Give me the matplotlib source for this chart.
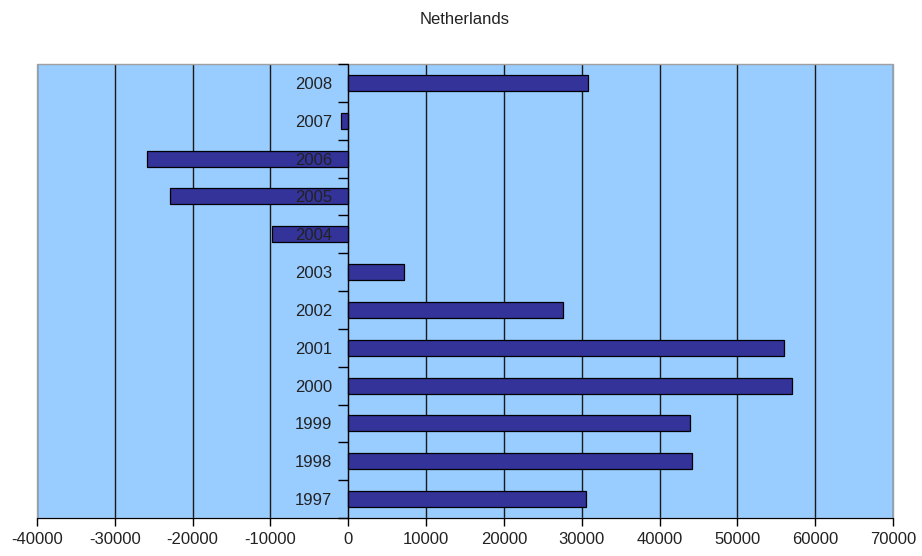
import numpy as np
import matplotlib.pyplot as plt
from matplotlib.patches import Rectangle

plt.rcParams['font.family'] = ['Liberation Sans', 'DejaVu Sans']

years = ['1997', '1998', '1999', '2000', '2001', '2002',
         '2003', '2004', '2005', '2006', '2007', '2008']
values = [30500, 44150, 43850, 57000, 56050, 27650,
          7100, -9850, -22900, -25900, -950, 30800]
xticks = np.arange(-40000, 70001, 10000)

# figure setup
fig = plt.figure(figsize=(9.22, 5.56), dpi=100)
ax = fig.add_axes([37 / 922, 38 / 556, 856 / 922, 454 / 556])
ax.set_facecolor('#99ccff')

pos = np.arange(len(years))
ax.barh(pos, values, height=0.42, color='#333399', edgecolor='black',
        linewidth=0.9, zorder=1)

# vertical gridlines behind the bars
for x in xticks:
    ax.axvline(x, color='#1a1a1a', linewidth=1.0, zorder=0.5)

ax.set_xlim(xticks[0], xticks[-1])
ax.set_ylim(-0.5, len(years) - 0.5)
ax.set_xticks(xticks)
ax.set_xticklabels([str(x) for x in xticks])
ax.tick_params(axis='x', direction='out', length=6, width=1, labelsize=12,
               pad=4, colors='black', labelcolor='#222222')

# category axis sits on zero
ax.spines['left'].set_position(('data', 0))
ax.spines['left'].set_color('black')
ax.spines['bottom'].set_color('black')
ax.spines['top'].set_visible(False)
ax.spines['right'].set_visible(False)
ax.set_yticks(pos)
ax.set_yticklabels(years)
ax.set_yticks(np.arange(-0.5, len(years), 1.0), minor=True)
ax.tick_params(axis='y', which='major', length=0, labelsize=12, pad=11.5,
               labelcolor='#222222')
ax.tick_params(axis='y', which='minor', length=7, width=1, direction='out',
               color='black')

# grey frame round the plot area
ax.add_patch(Rectangle((0, 0), 1, 1, transform=ax.transAxes, fill=False,
                       edgecolor='#a0a0a0', linewidth=1.0, zorder=0.6,
                       clip_on=False))

fig.text(0.504, 1 - 19 / 556, 'Netherlands', ha='center', va='center',
         fontsize=12, color='#222222')

fig.savefig('out.png', dpi=100)
